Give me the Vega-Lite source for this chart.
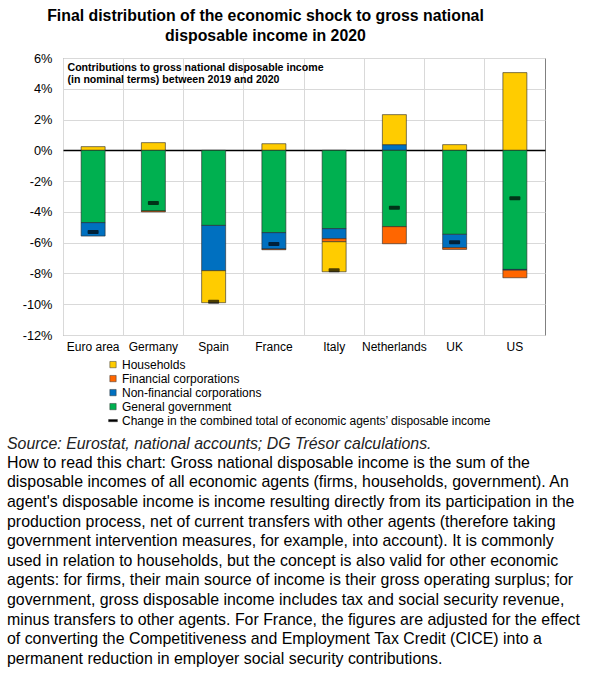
{
  "$schema": "https://vega.github.io/schema/vega-lite/v6.json",
  "padding": {"left": 6, "top": 8, "right": 0, "bottom": 0},
  "background": "white",
  "config": {
    "font": "Liberation Sans",
    "view": {"stroke": "#808080", "strokeWidth": 1},
    "concat": {"spacing": 0},
    "axis": {"labelColor": "black", "labelFont": "Liberation Sans", "ticks": false, "domain": false, "gridColor": "#d9d9d9", "gridWidth": 1},
    "axisX": {"labelFontSize": 12, "labelPadding": 6, "labelAngle": 0},
    "axisY": {"labelFontSize": 12.8, "labelPadding": 11}
  },
  "title": {
    "text": ["Final distribution of the economic shock to gross national", "disposable income in 2020"],
    "font": "Liberation Sans",
    "fontSize": 15.85,
    "fontWeight": "bold",
    "lineHeight": 19.5,
    "color": "black",
    "anchor": "middle",
    "dx": -28,
    "offset": 8
  },
  "datasets": {
    "bars": [
      {"country": "Euro area", "sector": "Households", "value": 0.24},
      {"country": "Euro area", "sector": "General government", "value": -4.70},
      {"country": "Euro area", "sector": "Non-financial corporations", "value": -0.87},
      {"country": "Germany", "sector": "Households", "value": 0.5},
      {"country": "Germany", "sector": "General government", "value": -3.94},
      {"country": "Germany", "sector": "Financial corporations", "value": -0.06},
      {"country": "Spain", "sector": "General government", "value": -4.88},
      {"country": "Spain", "sector": "Non-financial corporations", "value": -2.94},
      {"country": "Spain", "sector": "Households", "value": -2.08},
      {"country": "France", "sector": "Households", "value": 0.43},
      {"country": "France", "sector": "General government", "value": -5.35},
      {"country": "France", "sector": "Non-financial corporations", "value": -1.06},
      {"country": "France", "sector": "Financial corporations", "value": -0.05},
      {"country": "Italy", "sector": "General government", "value": -5.09},
      {"country": "Italy", "sector": "Non-financial corporations", "value": -0.65},
      {"country": "Italy", "sector": "Financial corporations", "value": -0.20},
      {"country": "Italy", "sector": "Households", "value": -1.95},
      {"country": "Netherlands", "sector": "Non-financial corporations", "value": 0.37},
      {"country": "Netherlands", "sector": "Households", "value": 1.95},
      {"country": "Netherlands", "sector": "General government", "value": -4.96},
      {"country": "Netherlands", "sector": "Financial corporations", "value": -1.11},
      {"country": "UK", "sector": "Households", "value": 0.37},
      {"country": "UK", "sector": "General government", "value": -5.46},
      {"country": "UK", "sector": "Non-financial corporations", "value": -0.87},
      {"country": "UK", "sector": "Financial corporations", "value": -0.11},
      {"country": "US", "sector": "Households", "value": 5.05},
      {"country": "US", "sector": "General government", "value": -7.74},
      {"country": "US", "sector": "Non-financial corporations", "value": -0.05},
      {"country": "US", "sector": "Financial corporations", "value": -0.49}
    ],
    "sectors": [
      {"sector": "General government", "stackRank": 1},
      {"sector": "Non-financial corporations", "stackRank": 2},
      {"sector": "Financial corporations", "stackRank": 3},
      {"sector": "Households", "stackRank": 4}
    ],
    "totals": [
      {"country": "Euro area", "total": -5.31},
      {"country": "Germany", "total": -3.42},
      {"country": "Spain", "total": -9.84},
      {"country": "France", "total": -6.09},
      {"country": "Italy", "total": -7.80},
      {"country": "Netherlands", "total": -3.73},
      {"country": "UK", "total": -5.98},
      {"country": "US", "total": -3.12}
    ]
  },
  "vconcat": [
    {
      "width": 482,
      "height": 277,
      "title": {
        "text": "Source: Eurostat, national accounts; DG Trésor calculations.",
        "subtitle": [
          "How to read this chart: Gross national disposable income is the sum of the",
          "disposable incomes of all economic agents (firms, households, government). An",
          "agent's disposable income is income resulting directly from its participation in the",
          "production process, net of current transfers with other agents (therefore taking",
          "government intervention measures, for example, into account). It is commonly",
          "used in relation to households, but the concept is also valid for other economic",
          "agents: for firms, their main source of income is their gross operating surplus; for",
          "government, gross disposable income includes tax and social security revenue,",
          "minus transfers to other agents. For France, the figures are adjusted for the effect",
          "of converting the Competitiveness and Employment Tax Credit (CICE) into a",
          "permanent reduction in employer social security contributions."
        ],
        "orient": "bottom",
        "anchor": "start",
        "frame": "group",
        "dx": -56,
        "offset": 84,
        "font": "Liberation Sans",
        "fontSize": 15.9,
        "fontStyle": "italic",
        "fontWeight": "normal",
        "color": "#222222",
        "lineHeight": 19.6,
        "subtitleFont": "Liberation Sans",
        "subtitleFontSize": 15.9,
        "subtitleColor": "black",
        "subtitleLineHeight": 19.6,
        "subtitlePadding": 3
      },
      "layer": [
        {
          "data": {"name": "bars"},
          "transform": [
            {"lookup": "sector", "from": {"data": {"name": "sectors"}, "key": "sector", "fields": ["stackRank"]}}
          ],
          "mark": {"type": "bar", "width": 24, "stroke": "#262626", "strokeWidth": 0.6},
          "encoding": {
            "x": {
              "field": "country", "type": "nominal",
              "sort": ["Euro area", "Germany", "Spain", "France", "Italy", "Netherlands", "UK", "US"],
              "scale": {"paddingInner": 0, "paddingOuter": 0},
              "axis": {
                "grid": true, "bandPosition": 0, "labelAngle": 0,
                "title": ["Contributions to gross national disposable income", "(in nominal terms) between 2019 and 2020"],
                "titleX": 4, "titleY": -273, "titleAlign": "left", "titleAnchor": "start", "titleBaseline": "top",
                "titleFont": "Liberation Sans", "titleFontSize": 10.6, "titleFontWeight": "bold", "titleLineHeight": 12.5, "titleColor": "black"
              }
            },
            "y": {
              "field": "value", "type": "quantitative", "title": null, "stack": "zero",
              "scale": {"domain": [-12, 6], "nice": false},
              "axis": {
                "values": [-12, -10, -8, -6, -4, -2, 0, 2, 4, 6], "tickCount": 20, "labelExpr": "datum.value + '%'", "grid": true,
                "labelOverlap": false, "labelFlush": false, "labelBound": false,
                "gridColor": {"condition": {"test": "datum.value === 0", "value": "black"}, "value": "#d9d9d9"},
                "gridWidth": {"condition": {"test": "datum.value === 0", "value": 1.3}, "value": 1}
              }
            },
            "color": {
              "field": "sector", "type": "nominal",
              "scale": {
                "domain": ["Households", "Financial corporations", "Non-financial corporations", "General government", "Change in the combined total of economic agents’ disposable income"],
                "range": ["#FFCC00", "#FF6600", "#0070C0", "#00B050", "#000000"]
              },
              "legend": {
                "title": null,
                "orient": "none",
                "legendX": 44,
                "legendY": 300,
                "padding": 0,
                "symbolType": "square",
                "symbolSize": 40,
                "symbolStrokeColor": "#333333",
                "symbolStrokeWidth": 0.5,
                "labelFontSize": 12,
                "labelColor": "black",
                "labelOffset": 3,
                "labelLimit": 0,
                "clipHeight": 13.2,
                "rowPadding": 0,
                "encode": {
                  "symbols": {
                    "update": {
                      "shape": {"signal": "datum.value === 'Change in the combined total of economic agents’ disposable income' ? 'M-1.4,-0.35H1.4V0.35H-1.4Z' : 'square'"}
                    }
                  }
                }
              }
            },
            "order": {"field": "stackRank", "type": "quantitative", "sort": "ascending"}
          }
        },
        {
          "data": {"name": "totals"},
          "mark": {"type": "tick", "thickness": 4, "size": 11, "cornerRadius": 1},
          "encoding": {
            "x": {"field": "country", "type": "nominal", "sort": ["Euro area", "Germany", "Spain", "France", "Italy", "Netherlands", "UK", "US"]},
            "y": {"field": "total", "type": "quantitative", "title": null},
            "color": {"datum": "Change in the combined total of economic agents’ disposable income"}
          }
        }
      ]
    }
  ]
}
